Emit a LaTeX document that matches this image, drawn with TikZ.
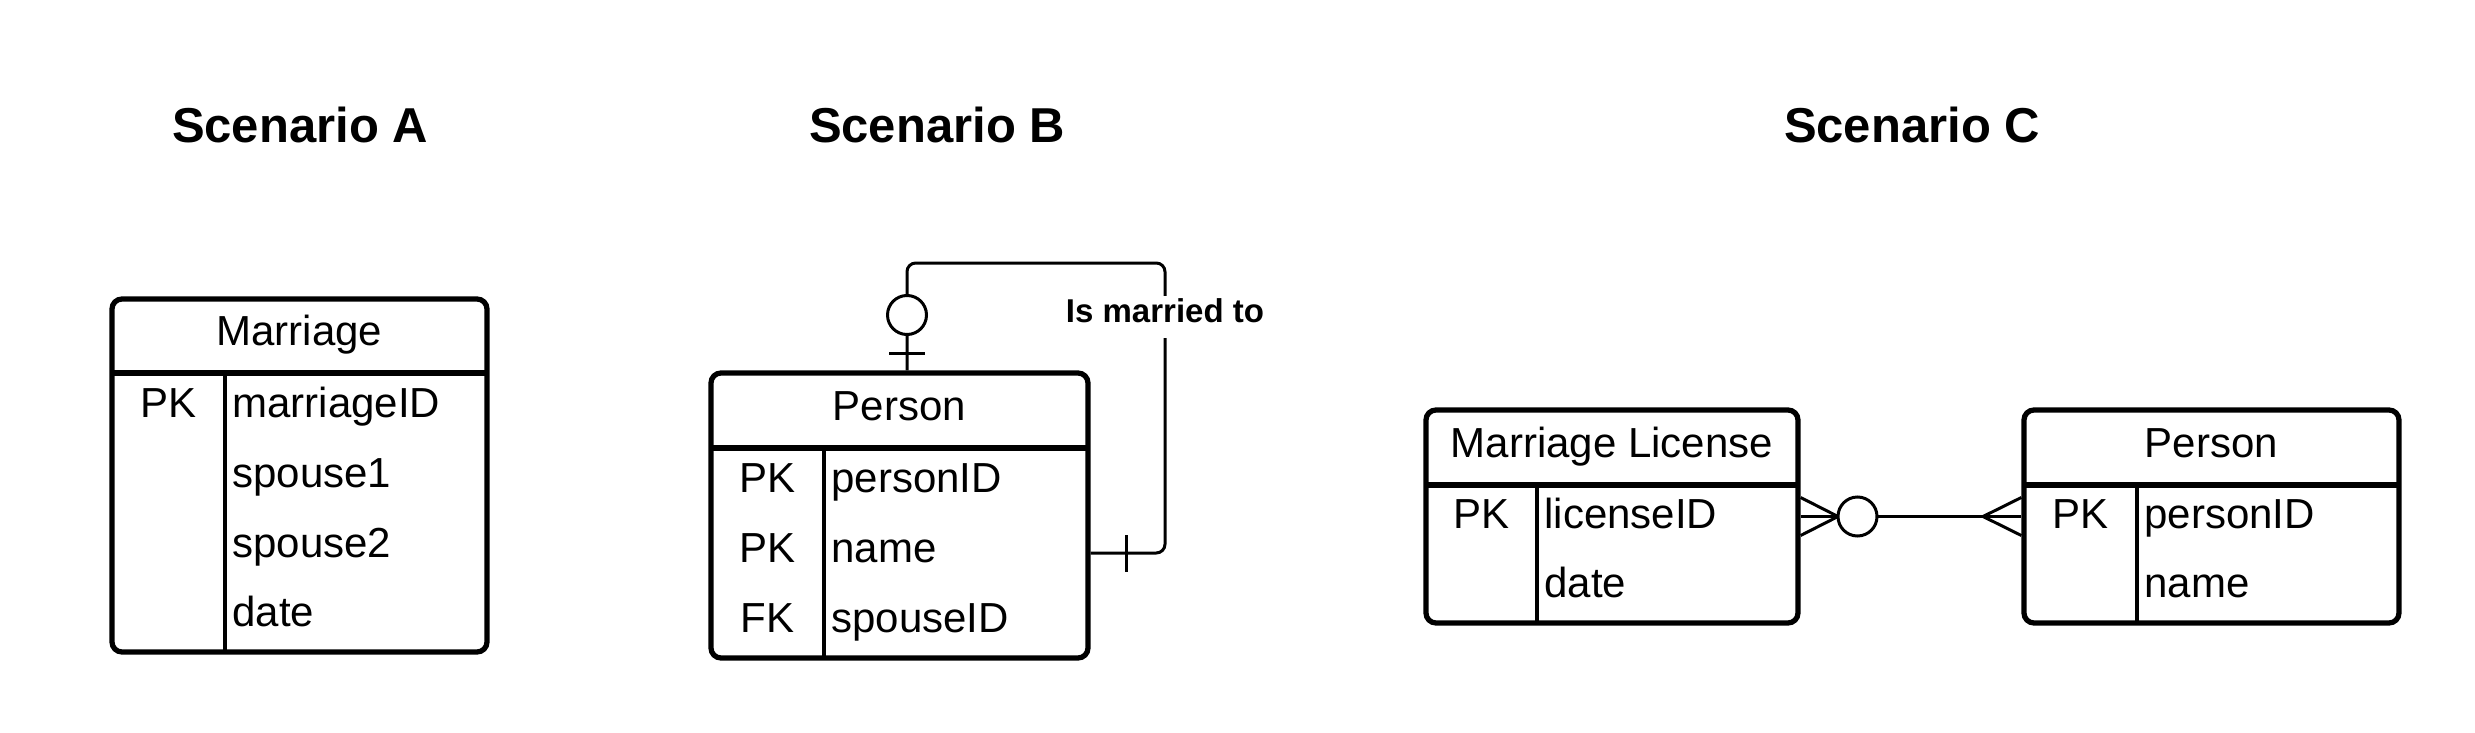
\documentclass[tikz,border=0pt]{standalone}
\usepackage{fontspec}
\setmainfont{Liberation Sans}
\usetikzlibrary{fit}
\begin{document}
\begin{tikzpicture}[x=0.4pt,y=-0.4pt,
  tbl/.style={draw, line width=2.1pt, rounded corners=4pt, inner sep=0pt, fit={#1}},
  sepline/.style={line width=2.1pt},
  colline/.style={line width=1.9pt},
  conn/.style={line width=1.2pt},
  title/.style={font=\fontsize{19.6}{24}\selectfont\bfseries, anchor=base, inner sep=0pt},
  hdr/.style={font=\fontsize{16.8}{20}\selectfont, anchor=base, inner sep=0pt},
  keyt/.style={font=\fontsize{16.8}{20}\selectfont, anchor=base, inner sep=0pt},
  attr/.style={font=\fontsize{16.8}{20}\selectfont, anchor=base west, inner sep=0pt},
  lbl/.style={font=\fontsize{13.2}{15}\selectfont\bfseries, fill=white, anchor=base,
    text height=7pt, text depth=3pt, inner ysep=3.5pt, inner xsep=2pt},
  zero/.style={draw, circle, fill=white, line width=1.2pt, minimum size=15.6pt, inner sep=0pt},
]
\useasboundingbox (0,0) rectangle (2475,733);

% ---------- titles ----------
\node[title] (ttlA) at (300,142) {Scenario A};
\node[title] (ttlB) at (937,142) {Scenario B};
\node[title] (ttlC) at (1912,142) {Scenario C};

% ---------- Scenario A ----------
\node[tbl={(112,299) (487,652)}] (tA) {};
\draw[sepline] (112,373) -- (487,373);
\draw[colline] (225,373) -- (225,652);
\node[hdr] (hA) at (299.5,345.5) {Marriage};
\node[keyt] (kA1) at (168.5,417.5) {PK};
\node[attr] (aA1) at (232,417.5) {marriageID};
\node[attr] (aA2) at (232,487) {spouse1};
\node[attr] (aA3) at (232,557) {spouse2};
\node[attr] (aA4) at (232,626.5) {date};

% ---------- Scenario B ----------
\node[tbl={(711,373) (1088,658)}] (tB) {};
\draw[sepline] (711,448) -- (1088,448);
\draw[colline] (824,448) -- (824,658);
\node[hdr] (hB) at (899.5,420) {Person};
\node[keyt] (kB1) at (767.5,492.5) {PK};
\node[keyt] (kB2) at (767.5,562.5) {PK};
\node[keyt] (kB3) at (767.5,632.5) {FK};
\node[attr] (aB1) at (831,492.5) {personID};
\node[attr] (aB2) at (831,562.5) {name};
\node[attr] (aB3) at (831,632.5) {spouseID};

\coordinate (loopTL) at (907,263);
\coordinate (loopTR) at (1165,263);
\coordinate (loopBR) at (1165,553);
\draw[conn, rounded corners=3.5pt] (tB.north -| loopTL) -- (loopTL) -- (loopTR) -- (loopBR) -- (tB.east |- loopBR);
\draw[conn] (889,353) -- (925,353);
\draw[conn] (1126,535) -- (1126,572);
\node[zero] (oB) at (907,315) {};
\node[lbl] (lblB) at (1165,322) {Is married to};

% ---------- Scenario C ----------
\node[tbl={(1426,410) (1798,623)}] (tML) {};
\draw[sepline] (1426,485) -- (1798,485);
\draw[colline] (1537,485) -- (1537,623);
\node[hdr] (hML) at (1612,457) {Marriage License};
\node[keyt] (kML1) at (1481.5,528) {PK};
\node[attr] (aML1) at (1544,528) {licenseID};
\node[attr] (aML2) at (1544,597) {date};

\node[tbl={(2024,410) (2399,623)}] (tPC) {};
\draw[sepline] (2024,485) -- (2399,485);
\draw[colline] (2137,485) -- (2137,623);
\node[hdr] (hPC) at (2211.5,457) {Person};
\node[keyt] (kPC1) at (2080.5,528) {PK};
\node[attr] (aPC1) at (2144,528) {personID};
\node[attr] (aPC2) at (2144,597) {name};

\coordinate (cfL) at (1838,516.5);
\coordinate (cfR) at (1983,516.5);
\draw[conn] (tML.east) -- (tPC.west);
\draw[conn] ([yshift=7.6pt]tML.east) -- (cfL) -- ([yshift=-7.6pt]tML.east);
\draw[conn] ([yshift=7.6pt]tPC.west) -- (cfR) -- ([yshift=-7.6pt]tPC.west);
\node[zero] (oC) at (1857.5,516.5) {};
\end{tikzpicture}
\end{document}
